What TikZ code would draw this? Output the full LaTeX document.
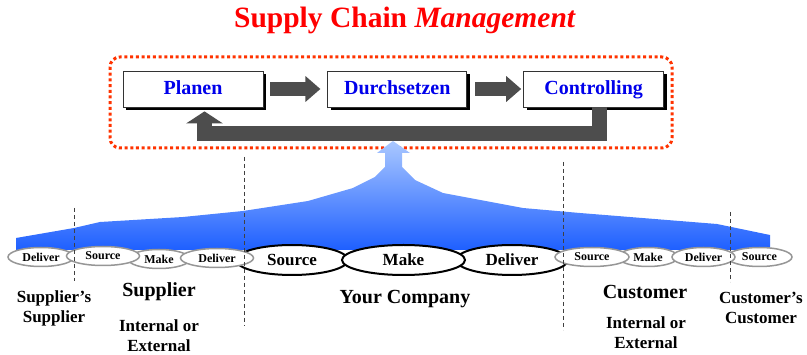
\documentclass[tikz,border=0pt]{standalone}
\usepackage{fontspec}
\setmainfont{Liberation Serif}
\usetikzlibrary{arrows.meta,shapes.geometric,positioning,shadows}

\definecolor{scmred}{RGB}{255,0,0}
\definecolor{dotred}{RGB}{255,51,0}
\definecolor{boxblue}{RGB}{0,0,235}
\definecolor{arrowgray}{RGB}{77,77,77}
\definecolor{flowtop}{RGB}{170,200,255}
\definecolor{flowmid}{RGB}{110,155,255}
\definecolor{flowbot}{RGB}{30,95,255}
\definecolor{rimgray}{RGB}{150,150,150}

\begin{document}
\begin{tikzpicture}[x=1pt, y=-1pt, node distance=64pt,
    phase/.style={draw=black!80, fill=white, line width=0.8pt, minimum width=140pt,
        minimum height=36pt, inner sep=0pt, text=boxblue, text height=14pt, text depth=2pt,
        font=\fontsize{20}{24}\selectfont\bfseries,
        drop shadow={shadow xshift=3pt, shadow yshift=-3pt, opacity=1, fill=black}},
    flow/.style={draw=arrowgray, line width=14pt, -{Triangle[length=15pt,width=25pt]}},
    flowback/.style={draw=arrowgray, line width=15pt, line join=miter,
        -{Triangle[length=12pt,width=36pt]}},
    smallstage/.style={ellipse, draw=rimgray, line width=1.5pt, fill=white, inner sep=0pt,
        minimum height=19pt, font=\fontsize{12}{14}\selectfont\bfseries},
    bigstage/.style={ellipse, draw=black, line width=2pt, fill=white, inner sep=0pt,
        minimum height=30pt, font=\fontsize{17}{20}\selectfont\bfseries},
    divider/.style={draw=black!75, line width=1pt, dash pattern=on 4pt off 3pt},
    party/.style={align=center, font=\fontsize{20}{20}\selectfont\bfseries},
    note/.style={align=center, font=\fontsize{17}{20}\selectfont\bfseries}]
    \useasboundingbox (0,0) rectangle (807,355);

    % Title
    \node [text=scmred, font=\fontsize{29.5}{32}\selectfont\bfseries] (title) at (405,20)
        {Supply Chain \textit{Management}};

    % Cycle {planen, durch, ctrl}
    \draw [dotred, line width=3pt, dash pattern=on 3pt off 2.7pt, rounded corners=10pt]
        (110,57) rectangle (672,148);
    \node [phase]                        (planen) at (193,89) {Planen};
    \node [phase, minimum width=139pt]   (durch)  [right=of planen]     {Durchsetzen};
    \node [phase]                        (ctrl)   [right=56pt of durch] {Controlling};
    \coordinate (retbar) at (400,133.5);

    \draw [flow, shorten <=7pt, shorten >=7pt]  (planen.east) -- (durch.west);
    \draw [flow, shorten <=8pt, shorten >=2pt]  (durch.east)  -- (ctrl.west);
    \draw [flowback, shorten >=4pt] ([xshift=5.5pt]ctrl.south) |- (retbar)
        -| ([xshift=11.5pt]planen.south);

    % Blue flow up to the cycle
    \shade [top color=flowtop, middle color=flowmid, bottom color=flowbot]
        (16,250) -- (16,238) -- (74,228) -- (100,222) -- (183,217) -- (243,211)
        -- (308,201) -- (353,188) -- (375,177) -- (385,167) -- (385,153) -- (377,153)
        -- (393,141) -- (410,153) -- (402,153) -- (402,167) -- (415,180) -- (443,193)
        -- (523,208) -- (580,213) -- (717,224) -- (770,235) -- (770,250) -- cycle;

    % Stages of your company
    \node [bigstage, minimum width=112pt] (cdeliver) at (512,260)   {Deliver};
    \node [bigstage, minimum width=112pt] (csource)  at (292,260)   {Source};
    \node [bigstage, minimum width=123pt] (cmake)    at (403.5,260) {Make};

    % Stages of suppliers and customers
    \node [smallstage, minimum width=66pt] (ssdeliver) at (41,257)    {Deliver};
    \node [smallstage, minimum width=62pt] (smake)     at (159,259)   {Make};
    \node [smallstage, minimum width=73pt] (ssource)   at (103,256)   {Source};
    \node [smallstage, minimum width=73pt] (sdeliver)  at (217,258)   {Deliver};
    \node [smallstage, minimum width=60pt] (kmake)     at (648,257)   {Make};
    \node [smallstage, minimum width=74pt] (ksource)   at (592,257)   {Source};
    \node [smallstage, minimum width=65pt] (kksource)  at (759.5,257) {Source};
    \node [smallstage, minimum width=63pt] (kdeliver)  at (703.5,257) {Deliver};

    % Borders between the parties
    \coordinate (b1t) at (74,208);  \coordinate (b1b) at (74,281);
    \coordinate (b2t) at (244,157); \coordinate (b2b) at (244,326);
    \coordinate (b3t) at (563,162); \coordinate (b3b) at (563,330);
    \coordinate (b4t) at (730,212); \coordinate (b4b) at (730,282);
    \draw [divider] (b1t) -- (b1b);
    \draw [divider] (b2t) -- (b2b);
    \draw [divider] (b3t) -- (b3b);
    \draw [divider] (b4t) -- (b4b);

    % Labels
    \node [note]  (ssname)  at (54,308)  {Supplier’s\\Supplier};
    \node [party] (sname)   at (159,292) {Supplier};
    \node [note]  (skind)   at (159,336) {Internal or\\External};
    \node [party] (yname)   at (405,299) {Your Company};
    \node [party] (kname)   at (645,292) {Customer};
    \node [note]  (kkind)   at (646,333) {Internal or\\External};
    \node [note]  (kkname)  at (761,308) {Customer’s\\Customer};
\end{tikzpicture}
\end{document}
